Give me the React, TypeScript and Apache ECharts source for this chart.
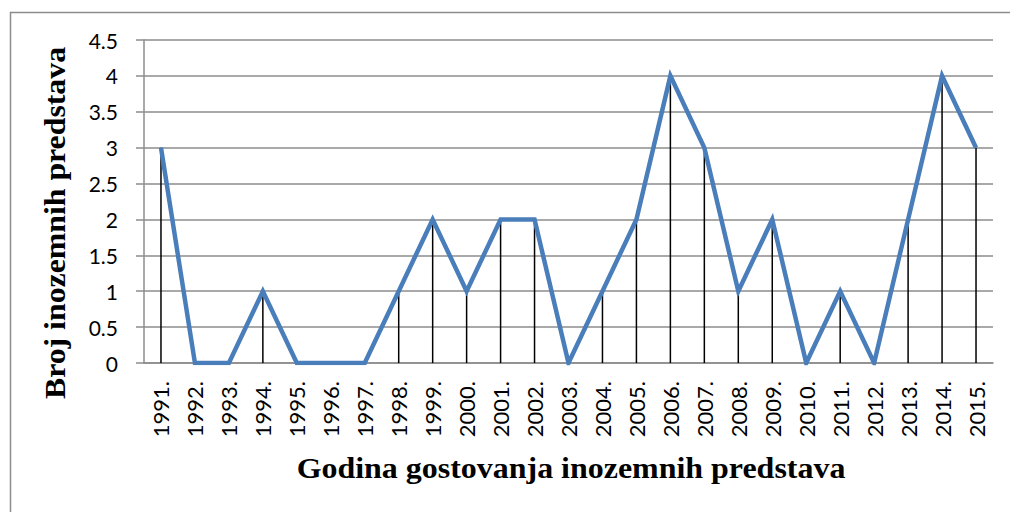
import React, { useEffect, useRef } from "react";
import * as echarts from "echarts";

const years = ["1991.", "1992.", "1993.", "1994.", "1995.", "1996.", "1997.", "1998.", "1999.", "2000.", "2001.", "2002.", "2003.", "2004.", "2005.", "2006.", "2007.", "2008.", "2009.", "2010.", "2011.", "2012.", "2013.", "2014.", "2015."];
const counts = [3, 0, 0, 1, 0, 0, 0, 1, 2, 1, 2, 2, 0, 1, 2, 4, 3, 1, 2, 0, 1, 0, 2, 4, 3];
const yTitle = "Broj inozemnih predstava";
const xTitle = "Godina gostovanja inozemnih predstava";

export default function App() {
  const ref = useRef<HTMLDivElement>(null);
  useEffect(() => {
    const chart = echarts.init(ref.current!, null, { renderer: "svg" });
    chart.setOption({
      animation: false,
      backgroundColor: "#ffffff",
      grid: { left: 144, right: 17, top: 40, bottom: 149 },
      graphic: [
        {
          type: "rect",
          left: 8,
          top: 10,
          shape: { width: 1100, height: 600 },
          style: { fill: "none", stroke: "#8c8c8c", lineWidth: 1.5 },
          z: -1,
        },
        {
          type: "text",
          x: 55,
          y: 223,
          rotation: Math.PI / 2,
          scaleX: 1.06,
          style: {
            text: yTitle,
            font: "bold 30px 'Liberation Serif'",
            fill: "#000",
            align: "center",
            verticalAlign: "middle",
          },
        },
        {
          type: "text",
          x: 571,
          y: 468,
          scaleX: 1.065,
          style: {
            text: xTitle,
            font: "bold 30px 'Liberation Serif'",
            fill: "#000",
            align: "center",
            verticalAlign: "middle",
          },
        },
      ],
      xAxis: {
        type: "category",
        data: years,
        boundaryGap: true,
        axisLine: { lineStyle: { color: "#8c8c8c", width: 1.5 } },
        axisTick: { show: false },
        axisLabel: {
          rotate: 90,
          interval: 0,
          margin: 18,
          fontFamily: "Lato",
          fontSize: 22,
          color: "#000",
        },
      },
      yAxis: {
        type: "value",
        min: 0,
        max: 4.5,
        interval: 0.5,
        axisLine: { show: true, lineStyle: { color: "#8c8c8c", width: 1.5 } },
        axisTick: { show: true, length: 8, lineStyle: { color: "#8c8c8c", width: 1.5 } },
        splitLine: { lineStyle: { color: "#8c8c8c", width: 1.5 } },
        axisLabel: {
          margin: 26,
          fontFamily: "Lato",
          fontSize: 21,
          color: "#000",
        },
      },
      series: [
        {
          type: "bar",
          data: counts,
          barWidth: 1.5,
          itemStyle: { color: "#000" },
          z: 2,
        },
        {
          type: "line",
          data: counts,
          symbol: "none",
          lineStyle: { color: "#4a7ebb", width: 4.5, join: "miter" },
          z: 3,
        },
      ],
    });
    return () => chart.dispose();
  }, []);
  return (
    <div
      ref={ref}
      style={{ position: "fixed", left: 0, top: 0, width: 1010, height: 512 }}
    />
  );
}
